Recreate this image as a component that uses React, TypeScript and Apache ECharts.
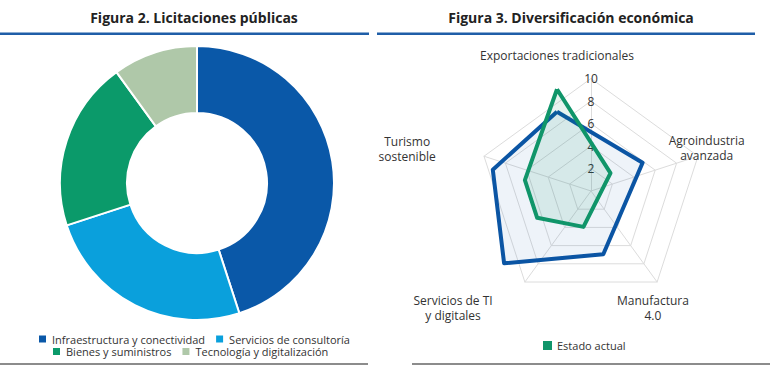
import React, { useEffect, useRef } from 'react';
import * as echarts from 'echarts';

const pieCategories = [
  'Infraestructura y conectividad',
  'Servicios de consultoría',
  'Bienes y suministros',
  'Tecnología y digitalización',
];
const pieValues = [45, 25, 20, 10];
const pieColors = ['#0a58a8', '#0aa0dc', '#0b9a6a', '#afc8a9'];

// Radar indicators (ECharts places them counter-clockwise from the top)
const radarIndicators = [
  'Exportaciones tradicionales',
  'Turismo\nsostenible',
  'Servicios de TI\ny digitales',
  'Manufactura\n4.0',
  'Agroindustria\navanzada',
];
const radarMax = 10;
const metaValues = [7, 6, 8, 7, 8];
const actualValues = [9, 3, 3, 4, 5];
const metaName = 'Meta';
const actualName = 'Estado actual';

const FONT = "'Open Sans', sans-serif";

// per-indicator name placement tweaks (gap, alignment, padding)
const nameTweaks: any[] = [
  { nameGap: 15.5 },
  { nameTextStyle: { padding: [0, 0, 5, 0] } },
  { nameTextStyle: { align: 'center', padding: [28, 58, 0, 0] } },
  { nameTextStyle: { align: 'center', padding: [28, 0, 0, 42] } },
  { nameGap: 5, nameTextStyle: { padding: [0, 0, 12, 0] } },
];

export default function App() {
  const ref = useRef<HTMLDivElement>(null);
  useEffect(() => {
    document.body.style.margin = '0';
    const chart = echarts.init(ref.current!, undefined, { renderer: 'svg' });
    const legendText = { fontSize: 11, color: '#333', fontFamily: FONT, lineHeight: 12 };
    const titleStyle = { fontSize: 14, fontWeight: 'bold', color: '#222', fontFamily: FONT };
    const option: any = {
      animation: false,
      textStyle: { fontFamily: FONT },
      title: [
        { text: 'Figura 2. Licitaciones públicas', left: 189, top: 5, textAlign: 'center', textStyle: titleStyle },
        { text: 'Figura 3. Diversificación económica', left: 566, top: 5, textAlign: 'center', textStyle: titleStyle },
      ],
      legend: [
        {
          data: [pieCategories[0], pieCategories[1]],
          left: 37, top: 333, padding: 0, itemGap: 9, itemWidth: 9, itemHeight: 9,
          icon: 'rect', selectedMode: false, textStyle: legendText,
        },
        {
          data: [pieCategories[2], pieCategories[3]],
          left: 51, top: 345.5, padding: 0, itemGap: 9, itemWidth: 9, itemHeight: 9,
          icon: 'rect', selectedMode: false, textStyle: legendText,
        },
        {
          data: [actualName],
          left: 543, top: 339.5, padding: 0, itemWidth: 9, itemHeight: 9,
          icon: 'rect', selectedMode: false, textStyle: legendText,
        },
      ],
      radar: [
        {
          center: [591, 191],
          radius: 112.5,
          startAngle: 90,
          splitNumber: 5,
          shape: 'polygon',
          indicator: radarIndicators.map((n, i) =>
            i === 0
              ? {
                  name: n, min: 0, max: radarMax,
                  axisLabel: {
                    show: true, showMinLabel: false, color: '#333', fontSize: 12,
                    fontFamily: FONT, margin: 0, align: 'center',
                  },
                }
              : { name: n, min: 0, max: radarMax }
          ),
          axisName: { show: false },
          splitLine: { lineStyle: { color: '#dcdcdc', width: 1 } },
          splitArea: { show: false },
          axisLine: { lineStyle: { color: '#dcdcdc', width: 1 } },
          axisTick: { show: false },
          axisLabel: { show: false },
        },
        {
          center: [557, 190.5],
          radius: 112.5,
          startAngle: 90,
          splitNumber: 5,
          shape: 'polygon',
          axisNameGap: 15,
          indicator: radarIndicators.map((n, i) => ({ name: n, min: 0, max: radarMax, ...nameTweaks[i] })),
          axisName: {
            show: true,
            formatter: (v: string) => v.split('\n').map((l) => `{c|${l}}`).join('\n'),
            rich: { c: { align: 'center', fontSize: 12, color: '#333', fontFamily: FONT, lineHeight: 15 } },
          },
          splitLine: { show: false },
          splitArea: { show: false },
          axisLine: { show: false },
          axisTick: { show: false },
          axisLabel: { show: false },
        },
      ],
      series: [
        {
          type: 'pie',
          center: [197, 183],
          radius: [70, 137],
          startAngle: 90,
          clockwise: true,
          label: { show: false },
          labelLine: { show: false },
          emphasis: { disabled: true },
          itemStyle: { borderColor: '#fff', borderWidth: 2 },
          data: pieCategories.map((n, i) => ({
            name: n,
            value: pieValues[i],
            itemStyle: { color: pieColors[i] },
          })),
        },
        {
          type: 'radar',
          radarIndex: 1,
          symbol: 'none',
          emphasis: { disabled: true },
          data: [
            {
              name: metaName,
              value: metaValues,
              itemStyle: { color: '#0b55a4' },
              lineStyle: { color: '#0b55a4', width: 4 },
              areaStyle: { color: 'rgba(11,85,164,0.1)' },
            },
            {
              name: actualName,
              value: actualValues,
              itemStyle: { color: '#10956a' },
              lineStyle: { color: '#10956a', width: 4 },
              areaStyle: { color: 'rgba(16,149,106,0.15)' },
            },
          ],
        },
      ],
      graphic: [
        { type: 'rect', shape: { x: 0, y: 32.5, width: 369, height: 2.5 }, style: { fill: '#1f5ea8' } },
        { type: 'rect', shape: { x: 377, y: 32.5, width: 378, height: 2.5 }, style: { fill: '#1f5ea8' } },
        { type: 'rect', shape: { x: 0, y: 363, width: 368, height: 2 }, style: { fill: '#8c8c8c' } },
        { type: 'rect', shape: { x: 412, y: 363, width: 358, height: 2 }, style: { fill: '#8c8c8c' } },
      ],
    };
    chart.setOption(option);
    return () => chart.dispose();
  }, []);
  return <div ref={ref} style={{ width: 770, height: 372 }} />;
}
